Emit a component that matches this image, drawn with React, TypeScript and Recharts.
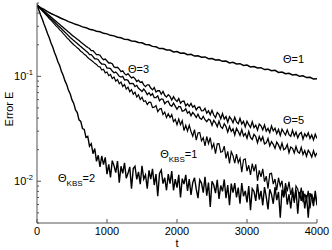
import { LineChart, Line, XAxis, YAxis, ReferenceDot } from "recharts"

// sample times (t)
const tFine = [
  0, 25, 50, 75, 100, 125, 150, 175, 200, 225, 250, 275, 300, 325, 350, 375, 400, 425, 450, 475,
  500, 525, 550, 575, 600, 625, 650, 675, 700, 725, 750, 775, 800, 825, 850, 875, 900, 925, 950, 975,
  1000, 1025, 1050, 1075, 1100, 1125, 1150, 1175, 1200, 1225, 1250, 1275, 1300, 1325, 1350, 1375, 1400, 1425, 1450, 1475,
  1500, 1525, 1550, 1575, 1600, 1625, 1650, 1675, 1700, 1725, 1750, 1775, 1800, 1825, 1850, 1875, 1900, 1925, 1950, 1975,
  2000, 2025, 2050, 2075, 2100, 2125, 2150, 2175, 2200, 2225, 2250, 2275, 2300, 2325, 2350, 2375, 2400, 2425, 2450, 2475,
  2500, 2525, 2550, 2575, 2600, 2625, 2650, 2675, 2700, 2725, 2750, 2775, 2800, 2825, 2850, 2875, 2900, 2925, 2950, 2975,
  3000, 3025, 3050, 3075, 3100, 3125, 3150, 3175, 3200, 3225, 3250, 3275, 3300, 3325, 3350, 3375, 3400, 3425, 3450, 3475,
  3500, 3525, 3550, 3575, 3600, 3625, 3650, 3675, 3700, 3725, 3750, 3775, 3800, 3825, 3850, 3875, 3900, 3925, 3950, 3975,
  4000,
]
// every other sample, for the smooth Θ=1 run
const tCoarse = tFine.filter((_, i) => i % 2 === 0)

// error E, Θ=1 (coarse samples)
const errTheta1 = [
  0.476, 0.452, 0.434, 0.413, 0.397, 0.383, 0.37, 0.356, 0.345, 0.332, 0.323, 0.313, 0.306, 0.296, 0.291, 0.281, 0.277, 0.269, 0.266, 0.257,
  0.254, 0.246, 0.243, 0.236, 0.233, 0.225, 0.224, 0.217, 0.216, 0.21, 0.209, 0.201, 0.2, 0.193, 0.191, 0.184, 0.184, 0.178, 0.178, 0.171,
  0.172, 0.166, 0.167, 0.161, 0.162, 0.156, 0.157, 0.152, 0.153, 0.147, 0.148, 0.143, 0.144, 0.139, 0.14, 0.134, 0.136, 0.131, 0.132, 0.127,
  0.128, 0.123, 0.124, 0.12, 0.121, 0.116, 0.117, 0.113, 0.114, 0.109, 0.11, 0.106, 0.107, 0.103, 0.104, 0.1, 0.101, 0.0973, 0.098, 0.0945,
  0.0948,
]
// Θ=5 (fine samples)
const errTheta5 = [
  0.478, 0.462, 0.447, 0.433, 0.419, 0.405, 0.392, 0.38, 0.367, 0.355,
  0.344, 0.333, 0.322, 0.312, 0.301, 0.292, 0.282, 0.273, 0.264, 0.256,
  0.247, 0.24, 0.233, 0.226, 0.219, 0.212, 0.206, 0.2, 0.194, 0.188,
  0.184, 0.176, 0.176, 0.168, 0.161, 0.161, 0.159, 0.15, 0.144, 0.146,
  0.14, 0.134, 0.134, 0.132, 0.123, 0.121, 0.122, 0.117, 0.111, 0.113,
  0.106, 0.103, 0.106, 0.101, 0.0965, 0.0983, 0.0952, 0.0894, 0.092, 0.0873,
  0.0889, 0.0829, 0.0797, 0.0829, 0.0828, 0.0773, 0.0743, 0.0781, 0.0708, 0.0729,
  0.073, 0.0675, 0.0718, 0.0659, 0.0635, 0.0668, 0.0644, 0.0595, 0.064, 0.0599,
  0.0577, 0.0614, 0.0553, 0.0578, 0.0581, 0.0523, 0.0548, 0.0518, 0.0552, 0.0508,
  0.0525, 0.0478, 0.0507, 0.051, 0.0469, 0.0472, 0.0495, 0.0446, 0.0469, 0.043,
  0.0474, 0.0428, 0.0405, 0.0452, 0.0434, 0.0394, 0.0442, 0.0391, 0.0414, 0.0365,
  0.0412, 0.0392, 0.0361, 0.0407, 0.0368, 0.0353, 0.0397, 0.0352, 0.0373, 0.033,
  0.0373, 0.0346, 0.0325, 0.0369, 0.0325, 0.0343, 0.0307, 0.0351, 0.0338, 0.0309,
  0.0345, 0.03, 0.0319, 0.0291, 0.0336, 0.0302, 0.032, 0.0284, 0.0312, 0.0273,
  0.0313, 0.0293, 0.0276, 0.0309, 0.0278, 0.0268, 0.0306, 0.027, 0.0294, 0.0259,
  0.0282, 0.0292, 0.0252, 0.0283, 0.0266, 0.0289, 0.0256, 0.0276, 0.0248, 0.0281,
  0.0256,
]
// Θ=3 (fine samples)
const errTheta3 = [
  0.478, 0.46, 0.443, 0.427, 0.412, 0.397, 0.382, 0.368, 0.354, 0.342,
  0.329, 0.317, 0.305, 0.295, 0.284, 0.273, 0.263, 0.254, 0.244, 0.235,
  0.227, 0.219, 0.212, 0.206, 0.199, 0.192, 0.186, 0.18, 0.174, 0.169,
  0.161, 0.161, 0.154, 0.147, 0.147, 0.144, 0.136, 0.131, 0.131, 0.129,
  0.12, 0.1196, 0.1187, 0.1123, 0.1082, 0.1098, 0.1057, 0.1001, 0.0984, 0.0998,
  0.0924, 0.093, 0.0916, 0.0851, 0.0856, 0.0853, 0.08, 0.0821, 0.0769, 0.0744,
  0.0718, 0.0755, 0.0719, 0.067, 0.0698, 0.0658, 0.0683, 0.0626, 0.0628, 0.0651,
  0.0584, 0.0609, 0.0604, 0.0547, 0.0572, 0.0579, 0.0532, 0.0517, 0.0555, 0.052,
  0.0485, 0.0516, 0.0512, 0.0465, 0.0471, 0.0491, 0.0445, 0.0461, 0.0422, 0.0453,
  0.0432, 0.0405, 0.0436, 0.0401, 0.039, 0.0416, 0.0386, 0.037, 0.039, 0.0381,
  0.0342, 0.0381, 0.0361, 0.0331, 0.0374, 0.0331, 0.0319, 0.0354, 0.0332, 0.0294,
  0.0334, 0.0299, 0.0316, 0.0276, 0.032, 0.0298, 0.0274, 0.0311, 0.027, 0.0286,
  0.0257, 0.0298, 0.0261, 0.025, 0.028, 0.0267, 0.0232, 0.0267, 0.0243, 0.0265,
  0.0227, 0.0232, 0.0256, 0.0217, 0.0239, 0.0225, 0.0206, 0.0236, 0.0222, 0.0202,
  0.0231, 0.02, 0.0205, 0.0224, 0.0187, 0.0212, 0.0206, 0.0186, 0.0214, 0.0191,
  0.0185, 0.021, 0.018, 0.0196, 0.0173, 0.0197, 0.0186, 0.017, 0.0195, 0.0173,
  0.0187,
]
// Θ_KBS=1 (fine samples)
const errKbs1 = [
  0.476, 0.458, 0.44, 0.421, 0.405, 0.387, 0.373, 0.356, 0.343, 0.328,
  0.315, 0.301, 0.291, 0.277, 0.268, 0.255, 0.246, 0.234, 0.226, 0.216,
  0.208, 0.2, 0.194, 0.187, 0.181, 0.173, 0.169, 0.162, 0.158, 0.151,
  0.146, 0.142, 0.138, 0.133, 0.13, 0.124, 0.123, 0.115, 0.117, 0.108,
  0.11, 0.1015, 0.1043, 0.0952, 0.0986, 0.09, 0.0933, 0.0852, 0.0881, 0.0799,
  0.0837, 0.0756, 0.079, 0.0713, 0.0747, 0.0675, 0.0706, 0.0634, 0.0668, 0.0601,
  0.0632, 0.0575, 0.0585, 0.0538, 0.0568, 0.0565, 0.0505, 0.0508, 0.0526, 0.046,
  0.0487, 0.0494, 0.0432, 0.0457, 0.0404, 0.044, 0.0405, 0.0432, 0.037, 0.0389,
  0.0346, 0.0392, 0.0346, 0.0378, 0.0304, 0.0342, 0.0301, 0.0343, 0.0298, 0.0269,
  0.0311, 0.0247, 0.0288, 0.0292, 0.0243, 0.026, 0.0217, 0.0267, 0.0228, 0.026,
  0.0206, 0.0228, 0.0183, 0.0227, 0.0228, 0.0189, 0.0192, 0.0216, 0.0165, 0.0193,
  0.0148, 0.0191, 0.0175, 0.0149, 0.0181, 0.015, 0.0165, 0.0122, 0.016, 0.0163,
  0.0125, 0.0142, 0.0115, 0.0147, 0.0124, 0.0145, 0.0101, 0.0127, 0.011, 0.0131,
  0.0099, 0.0112, 0.0085, 0.0118, 0.0119, 0.0094, 0.0105, 0.0082, 0.0108, 0.009,
  0.0101, 0.0072, 0.0096, 0.008, 0.0099, 0.0074, 0.0087, 0.0062, 0.009, 0.0084,
  0.007, 0.0087, 0.0063, 0.0076, 0.0067, 0.0081, 0.0055, 0.0076, 0.0065, 0.0075,
  0.006,
]
// Θ_KBS=2 (fine samples)
const errKbs2 = [
  0.476, 0.432, 0.387, 0.352, 0.315, 0.286, 0.256, 0.233, 0.208, 0.19,
  0.169, 0.154, 0.137, 0.126, 0.111, 0.102, 0.0905, 0.0832, 0.0735, 0.0678,
  0.0596, 0.0552, 0.0478, 0.0452, 0.0385, 0.0372, 0.0318, 0.0312, 0.0262, 0.0268,
  0.0216, 0.0228, 0.0183, 0.0205, 0.0155, 0.0177, 0.0137, 0.0174, 0.0144, 0.0169,
  0.0117, 0.0145, 0.0109, 0.0157, 0.0141, 0.0121, 0.0156, 0.0097, 0.0139, 0.0119,
  0.015, 0.0107, 0.0119, 0.0137, 0.0085, 0.0132, 0.0139, 0.0104, 0.0123, 0.0094,
  0.014, 0.0105, 0.0115, 0.0085, 0.0127, 0.0105, 0.0131, 0.0092, 0.0117, 0.0072,
  0.0119, 0.0128, 0.0095, 0.0108, 0.0082, 0.0117, 0.0095, 0.0125, 0.0082, 0.0105,
  0.0087, 0.0115, 0.007, 0.0106, 0.0094, 0.0115, 0.0081, 0.0105, 0.0074, 0.0097,
  0.0108, 0.0084, 0.0069, 0.0103, 0.0096, 0.0078, 0.011, 0.0073, 0.0097, 0.0057,
  0.01, 0.0092, 0.0077, 0.0103, 0.0068, 0.0091, 0.008, 0.0104, 0.0069, 0.0092,
  0.0059, 0.0095, 0.0078, 0.0096, 0.007, 0.0087, 0.0061, 0.0096, 0.0072, 0.0081,
  0.0063, 0.009, 0.0053, 0.0085, 0.008, 0.0065, 0.0094, 0.0067, 0.0081, 0.0059,
  0.0088, 0.0071, 0.0054, 0.0084, 0.0075, 0.0061, 0.0088, 0.0066, 0.0079, 0.0045,
  0.0083, 0.007, 0.0087, 0.006, 0.0075, 0.0055, 0.0079, 0.0065, 0.0083, 0.0049,
  0.0079, 0.0065, 0.0081, 0.0055, 0.0074, 0.0045, 0.0077, 0.007, 0.0058, 0.0081,
  0.0059,
]

const xTicks = [0, 1000, 2000, 3000, 4000]
const yTicks = [0.004, 0.005, 0.006, 0.007, 0.008, 0.009, 0.01, 0.02, 0.03, 0.04, 0.05, 0.06, 0.07, 0.08, 0.09, 0.1, 0.2, 0.3, 0.4, 0.5]
const yLabels: Record<string, string> = { "0.01": "-2", "0.1": "-1" }

// curve labels: position in data units (text baseline), main text, subscript, tail
const notes = [
  { t: 3514, e: 0.134, text: "Θ=1", sub: "", tail: "" },
  { t: 1300, e: 0.1075, text: "Θ=3", sub: "", tail: "" },
  { t: 3514, e: 0.035, text: "Θ=5", sub: "", tail: "" },
  { t: 1760, e: 0.0168, text: "Θ", sub: "KBS", tail: "=1" },
  { t: 300, e: 0.0098, text: "Θ", sub: "KBS", tail: "=2" },
]

const toPoints = (ts: number[], es: number[]) => ts.map((t, i) => ({ t, e: es[i] }))

const series = [
  { name: "th1", data: toPoints(tCoarse, errTheta1), width: 1.5 },
  { name: "th5", data: toPoints(tFine, errTheta5), width: 1.3 },
  { name: "th3", data: toPoints(tFine, errTheta3), width: 1.3 },
  { name: "k1", data: toPoints(tFine, errKbs1), width: 1.2 },
  { name: "k2", data: toPoints(tFine, errKbs2), width: 1.4 },
]

const FONT = "'Liberation Sans', Arial, sans-serif"
const FRAME = "#555"

function LeftTick({ x, y, payload }: any) {
  const ax = x + 3
  const exp = yLabels[String(payload.value)]
  return (
    <g>
      <line x1={ax} x2={ax + (exp ? 4 : 2)} y1={y} y2={y} stroke={FRAME} />
      {exp && (
        <text x={ax - 4} y={y + 4} textAnchor="end" fontSize={11} fontFamily={FONT} fill="#000">
          10<tspan dy={-5} fontSize={7.5}>{exp}</tspan>
        </text>
      )}
    </g>
  )
}

function RightTick({ x, y, payload }: any) {
  const ax = x - 3
  const major = !!yLabels[String(payload.value)]
  return <line x1={ax} x2={ax - (major ? 4 : 2)} y1={y} y2={y} stroke={FRAME} />
}

function BottomTick({ x, y, payload }: any) {
  const ay = y - 3
  return (
    <g>
      <line x1={x} x2={x} y1={ay} y2={ay - 4} stroke={FRAME} />
      <text x={x} y={ay + 12} textAnchor="middle" fontSize={11} fontFamily={FONT} fill="#000">
        {payload.value}
      </text>
    </g>
  )
}

function TopTick({ x, y }: any) {
  const ay = y + 3
  return <line x1={x} x2={x} y1={ay} y2={ay + 4} stroke={FRAME} />
}

function Note({ cx, cy, text, sub, tail }: any) {
  return (
    <text x={cx} y={cy} fontSize={11} fontFamily={FONT} fill="#000">
      {text}
      {sub && <tspan dy={4} fontSize={8}>{sub}</tspan>}
      {tail && <tspan dy={-4}>{tail}</tspan>}
    </text>
  )
}

export default function App() {
  return (
    <div style={{ position: "absolute", left: 0, top: 0, background: "#fff" }}>
      <LineChart width={332} height={250} margin={{ top: 3, right: 15, bottom: 0, left: 0 }}>
        <XAxis
          xAxisId="b"
          dataKey="t"
          type="number"
          domain={[0, 4000]}
          allowDataOverflow
          ticks={xTicks}
          interval={0}
          height={27}
          tickSize={0}
          tickMargin={3}
          tickLine={false}
          stroke={FRAME}
          tick={<BottomTick />}
          label={{
            content: ({ viewBox }: any) => (
              <text x={viewBox.x + viewBox.width / 2} y={viewBox.y + 24} textAnchor="middle" fontSize={11} fontFamily={FONT}>
                t
              </text>
            ),
          }}
        />
        <XAxis
          xAxisId="top"
          orientation="top"
          dataKey="t"
          type="number"
          domain={[0, 4000]}
          allowDataOverflow
          ticks={xTicks}
          interval={0}
          height={0}
          tickSize={0}
          tickMargin={3}
          tickLine={false}
          stroke={FRAME}
          tick={<TopTick />}
        />
        <YAxis
          yAxisId="l"
          type="number"
          scale="log"
          domain={[0.004, 0.5]}
          allowDataOverflow
          ticks={yTicks}
          interval={0}
          width={37}
          tickSize={0}
          tickMargin={3}
          tickLine={false}
          stroke={FRAME}
          tick={<LeftTick />}
          label={{
            content: ({ viewBox }: any) => {
              const cx = viewBox.x + 9
              const cy = viewBox.y + viewBox.height / 2 - 4
              return (
                <text x={cx} y={cy} transform={`rotate(-90 ${cx} ${cy})`} textAnchor="middle" dominantBaseline="central" fontSize={11} fontFamily={FONT}>
                  Error E
                </text>
              )
            },
          }}
        />
        <YAxis
          yAxisId="r"
          orientation="right"
          type="number"
          scale="log"
          domain={[0.004, 0.5]}
          allowDataOverflow
          ticks={yTicks}
          interval={0}
          width={0}
          tickSize={0}
          tickMargin={3}
          tickLine={false}
          stroke={FRAME}
          tick={<RightTick />}
        />
        {series.map((s) => (
          <Line
            key={s.name}
            xAxisId="b"
            yAxisId="l"
            data={s.data}
            dataKey="e"
            type="linear"
            stroke="#000"
            strokeWidth={s.width}
            dot={false}
            isAnimationActive={false}
          />
        ))}
        {notes.map((n) => (
          <ReferenceDot
            key={n.text + n.tail}
            xAxisId="b"
            yAxisId="l"
            x={n.t}
            y={n.e}
            r={0}
            shape={(p: any) => <Note {...p} {...n} />}
          />
        ))}
      </LineChart>
    </div>
  )
}
